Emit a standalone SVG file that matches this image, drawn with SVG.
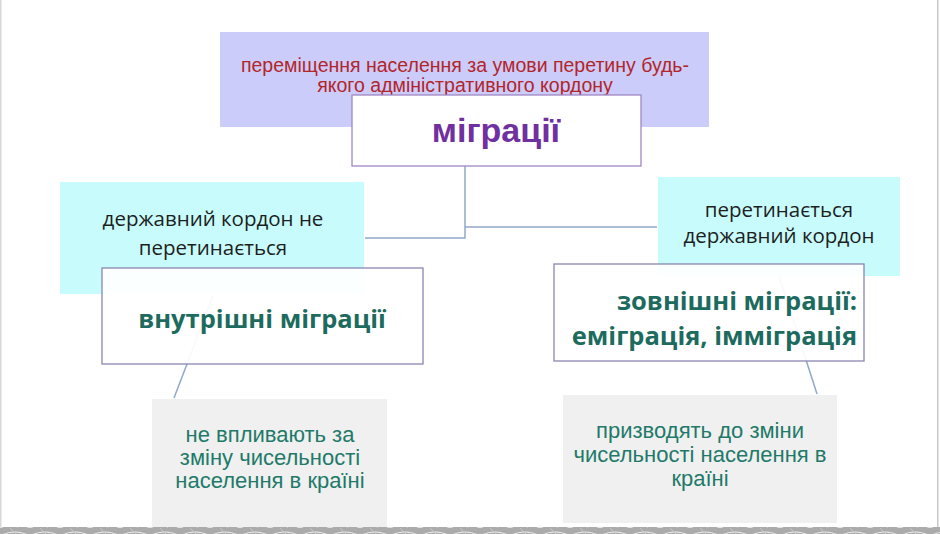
<svg xmlns="http://www.w3.org/2000/svg" width="940" height="534" viewBox="0 0 940 534">
<defs>
<style>
.lav{fill:#CCCCFA}
.cyan{fill:#C8FCFC}
.white{fill:#FFFFFF;fill-opacity:0.93;stroke:#8A86B2;stroke-width:1.3}
.grey{fill:#F0F0F0}
.conn{fill:none;stroke:#8FA9C9;stroke-width:1.5}
.red{font-family:"Liberation Sans",Arial,sans-serif;font-size:19.5px;fill:#B2252A;text-anchor:middle}
.title{font-family:"Liberation Sans",Arial,sans-serif;font-size:34px;font-weight:bold;fill:#7030A0;text-anchor:middle}
.dark{font-family:"Open Sans",sans-serif;font-size:20.5px;fill:#1E1E1E;text-anchor:middle}
.teal{font-family:"Open Sans",sans-serif;font-size:25.5px;font-weight:bold;fill:#1C6B5E}
.tealn{font-family:"Liberation Sans",Arial,sans-serif;font-size:22px;fill:#217A69;text-anchor:middle}
</style>
<pattern id="tex" width="60" height="8" patternUnits="userSpaceOnUse">
<rect width="60" height="8" fill="#ABABAB"/>
<path d="M0 8 Q15 0 30 8 M30 8 Q45 0 60 8" stroke="#E8E8E8" stroke-width="1.2" fill="none"/>
<path d="M10 0 L18 8 M40 0 L48 8" stroke="#C8C8C8" stroke-width="1" fill="none"/>
</pattern>
</defs>
<rect width="940" height="534" fill="#FFFFFF"/>
<rect x="0" y="527" width="940" height="7" fill="url(#tex)"/>
<rect x="0" y="0" width="1.5" height="527" fill="#D8D8D8"/>
<rect x="937" y="0" width="1.5" height="527" fill="#C8C8C8"/>

<g id="definition">
<rect class="lav" x="220" y="32" width="489" height="95"/>
<text class="red" x="465" y="72">переміщення населення за умови перетину будь-</text>
<text class="red" x="465" y="92">якого адміністративного кордону</text>
</g>

<g id="left-label">
<rect class="cyan" x="60" y="182" width="304" height="112"/>
<text class="dark" x="213" y="226">державний кордон не</text>
<text class="dark" x="213" y="255">перетинається</text>
</g>

<g id="right-label">
<rect class="cyan" x="658" y="177" width="242" height="99"/>
<text class="dark" x="779" y="217">перетинається</text>
<text class="dark" x="779" y="243">державний кордон</text>
</g>

<g id="connectors">
<path class="conn" d="M465 166 V238 H365"/>
<path class="conn" d="M465 227 H657"/>
<path class="conn" d="M213 296 L174 398"/>
<path class="conn" d="M779 276 L817 394"/>
</g>

<g id="migrations">
<rect class="white" x="352" y="95" width="289" height="71" style="fill-opacity:1;stroke:#A088C4"/>
<text class="title" x="496" y="142">міграції</text>
</g>

<g id="internal">
<rect class="white" x="102" y="268" width="321" height="96"/>
<text class="teal" x="262" y="328" text-anchor="middle">внутрішні міграції</text>
</g>

<g id="external">
<rect class="white" x="554" y="264" width="310" height="97"/>
<text class="teal" x="857" y="310" text-anchor="end">зовнішні міграції:</text>
<text class="teal" x="857" y="345" text-anchor="end">еміграція, імміграція</text>
</g>

<g id="internal-effect">
<rect class="grey" x="152" y="399" width="235" height="128"/>
<text class="tealn" x="270" y="442">не впливають за</text>
<text class="tealn" x="270" y="465">зміну чисельності</text>
<text class="tealn" x="270" y="488">населення в країні</text>
</g>

<g id="external-effect">
<rect class="grey" x="563" y="395" width="274" height="128"/>
<text class="tealn" x="700" y="438">призводять до зміни</text>
<text class="tealn" x="700" y="462">чисельності населення в</text>
<text class="tealn" x="700" y="486">країні</text>
</g>
</svg>
